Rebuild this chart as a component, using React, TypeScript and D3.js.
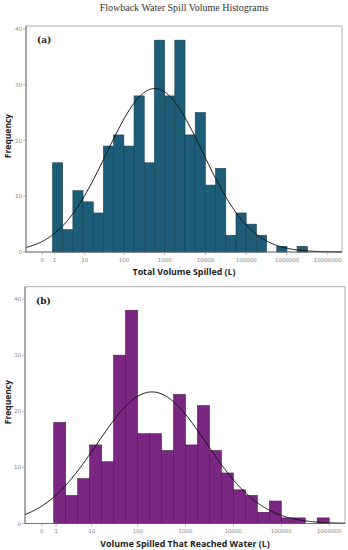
import React from 'react';
import * as d3 from 'd3';

// histogram counts, bins of 0.25 on log10(volume + 1), first bin starts at 0.25
const countsA = [16, 4, 11, 9, 7, 19, 21, 19, 28, 16, 38, 28, 38, 21, 25, 12, 15, 3, 7, 5, 3, 0, 1, 0, 1];
const countsB = [18, 5, 8, 14, 11, 30, 38, 16, 16, 13, 23, 14, 21, 13, 9, 6, 5, 2, 4, 1, 1, 0, 1];
const binStart = 0.25;
const binWidth = 0.25;

const ticksA = [0, 1, 10, 100, 1000, 10000, 100000, 1000000, 10000000];
const ticksB = [0, 1, 10, 100, 1000, 10000, 100000, 1000000];
const yTicks = [0, 10, 20, 30, 40];

// fitted normal curve (in log10 units)
const fitA = {mean: 2.76, sd: 1.18};
const fitB = {mean: 2.3, sd: 1.144};

const panels = [
    {
        id: 'a', counts: countsA, ticks: ticksA, fit: fitA,
        xDomain: [-0.4, 7.35], yMax: 40.54,
        left: 26, right: 342, top: 26, bottom: 252,
        fill: '#1e5d78', stroke: '#173f52',
        title: 'Total Volume Spilled (L)',
    },
    {
        id: 'b', counts: countsB, ticks: ticksB, fit: fitB,
        xDomain: [-0.35, 6.33], yMax: 42.2,
        left: 25, right: 345, top: 286.7, bottom: 523.5,
        fill: '#7a2782', stroke: '#4b1750',
        title: 'Volume Spilled That Reached Water (L)',
    },
];

const lg = (v: number) => Math.log10(v + 1);

const Panel = ({p}: {p: typeof panels[0]}) => {
    const x = d3.scaleLinear().domain(p.xDomain).range([p.left, p.right]);
    const y = d3.scaleLinear().domain([0, p.yMax]).range([p.bottom, p.top]);
    const n = d3.sum(p.counts);
    const peak = n * binWidth / (p.fit.sd * Math.sqrt(2 * Math.PI));
    const curvePts = d3.range(p.xDomain[0], p.xDomain[1] + 0.001, 0.02).map(v => {
        const z = (v - p.fit.mean) / p.fit.sd;
        return [v, peak * Math.exp(-z * z / 2)] as [number, number];
    });
    const line = d3.line<[number, number]>().x(d => x(d[0])).y(d => y(d[1])).curve(d3.curveBasis);
    const mid = (p.top + p.bottom) / 2;

    return (
        <g>
            <rect x={p.left} y={p.top} width={p.right - p.left} height={p.bottom - p.top}
                  fill="none" stroke="#b0b0b0" strokeWidth={1}/>
            {p.counts.map((c, i) => c > 0 && (
                <rect key={i}
                      x={x(binStart + i * binWidth)}
                      y={y(c)}
                      width={x(binStart + (i + 1) * binWidth) - x(binStart + i * binWidth)}
                      height={y(0) - y(c)}
                      fill={p.fill} stroke={p.stroke} strokeWidth={0.6}/>
            ))}
            <path d={line(curvePts) || ''} fill="none" stroke="#111" strokeWidth={1}/>
            <line x1={p.left} x2={p.left} y1={p.top} y2={p.bottom} stroke="#666" strokeWidth={0.8}/>
            <line x1={p.left} x2={p.right} y1={p.bottom} y2={p.bottom} stroke="#666" strokeWidth={0.8}/>
            {yTicks.map(t => (
                <g key={t}>
                    <line x1={p.left - 3} x2={p.left} y1={y(t)} y2={y(t)} stroke="#888" strokeWidth={0.6}/>
                    <text x={p.left - 4} y={y(t) + 2} textAnchor="end" fontSize={5.5} fill="#888"
                          fontFamily="DejaVu Sans">{t}</text>
                </g>
            ))}
            {p.ticks.map(t => (
                <g key={t}>
                    <line x1={x(lg(t))} x2={x(lg(t))} y1={p.bottom} y2={p.bottom + 3} stroke="#888" strokeWidth={0.6}/>
                    <text x={x(lg(t))} y={p.bottom + 9.5} textAnchor="middle" fontSize={5.5} fill="#888"
                          fontFamily="DejaVu Sans">{t}</text>
                </g>
            ))}
            <text transform={`translate(10.5,${mid - 3}) rotate(-90)`} textAnchor="middle" fontSize={8.5}
                  fontWeight="bold" fill="#222" fontFamily="Open Sans">Frequency</text>
            <text x={(p.left + p.right) / 2} y={p.bottom + 23} textAnchor="middle" fontSize={8.8}
                  fontWeight="bold" fill="#222" fontFamily="Open Sans">{p.title}</text>
            <text x={p.left + 11} y={p.top + 17} fontSize={9} fontWeight="bold" fill="#222"
                  fontFamily="DejaVu Serif">({p.id})</text>
        </g>
    );
};

const App = () => (
    <svg width={348} height={550} style={{position: 'absolute', left: 0, top: 0, background: '#fff'}}>
        <text x={184} y={11} textAnchor="middle" fontSize={10} fill="#333"
              fontFamily="Liberation Serif">Flowback Water Spill Volume Histograms</text>
        {panels.map(p => <Panel key={p.id} p={p}/>)}
    </svg>
);

export default App;
